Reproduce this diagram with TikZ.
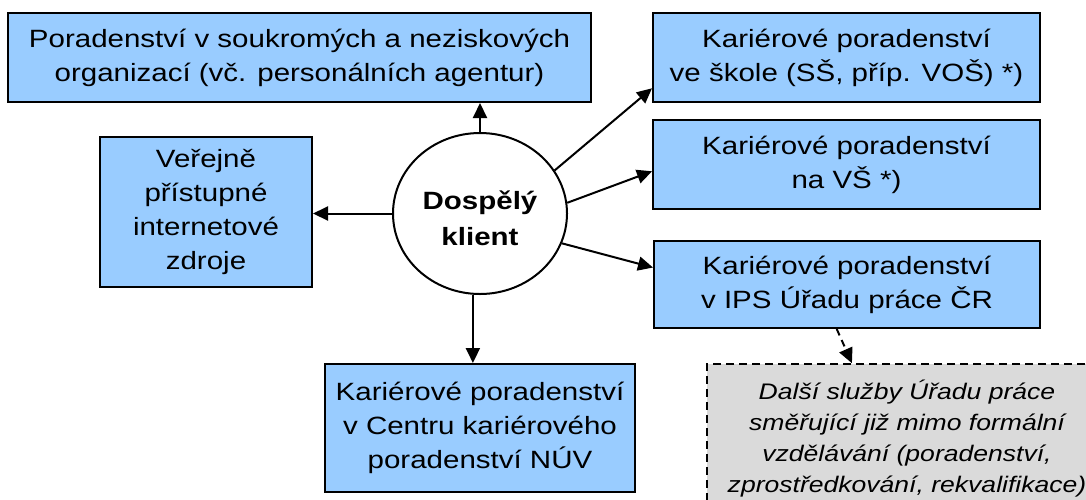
\documentclass[tikz,border=0pt]{standalone}
\usepackage{fontspec}
\setmainfont{Liberation Sans}[FakeStretch=1.18]
\usepackage{xcolor}
\usepackage{tikz}
\usetikzlibrary{arrows.meta}
\usetikzlibrary{shapes.geometric}
\definecolor{boxblue}{HTML}{99CCFF}
\definecolor{boxgray}{HTML}{DADADA}
\tikzset{
  bluebox/.style={draw=black, line width=2pt, fill=boxblue, align=center, inner sep=2pt, font=\fontsize{25}{34}\selectfont},
  graybox/.style={draw=black, line width=1.6pt, dash pattern=on 8pt off 5pt, fill=boxgray, align=center, inner sep=2pt, font=\fontsize{22.5}{31}\selectfont\itshape},
  link/.style={line width=2pt, ->, >={Triangle[length=15pt,width=14pt]}}
}

\begin{document}
\begin{tikzpicture}[x=1pt, y=-1pt]
\useasboundingbox (0,0) rectangle (1086,499);
\clip (0,0) rectangle (1086,499);
\node[bluebox, minimum width=583, minimum height=89] (priv) at (299.5,57.5) {Poradenství v soukromých a neziskových\\organizací (vč. personálních agentur)};
\node[bluebox, minimum width=212, minimum height=150] (web) at (206,212) {Veřejně\\přístupné\\internetové\\zdroje};
\node[draw=black, line width=2pt, fill=white, ellipse, inner sep=0pt, minimum width=174, minimum height=161, align=center, font=\fontsize{25}{36}\selectfont\bfseries] (client) at (480,213.5) {\rule{0pt}{29pt}Dospělý\\klient};
\node[bluebox, minimum width=387, minimum height=89] (school) at (846.5,57.5) {Kariérové poradenství\\ve škole (SŠ, příp. VOŠ) *)};
\node[bluebox, minimum width=387, minimum height=89] (uni) at (846.5,164.5) {Kariérové poradenství\\na VŠ *)};
\node[bluebox, minimum width=386, minimum height=87] (ips) at (847,284.5) {Kariérové poradenství\\v IPS Úřadu práce ČR};
\node[bluebox, minimum width=310, minimum height=128] (nuv) at (480,428) {Kariérové poradenství\\v Centru kariérového\\poradenství NÚV};
\node[graybox, minimum width=400, minimum height=150] (other) at (907,439) {Další služby Úřadu práce\\směřující již mimo formální\\vzdělávání (poradenství,\\zprostředkování, rekvalifikace)};
\draw[link] (client.north) -- (client.north |- priv.south);
\draw[link] (client.west) -- (client.west -| web.east);
\draw[link] (client.30) -- (school.189);
\draw[link] (client.7) -- (uni.182);
\draw[link] (client.340) -- (ips.175);
\draw[link] (client.265) -- (client.265 |- nuv.north);
\draw[link, dash pattern=on 7pt off 5pt] (ips.257) -- (other.126);
\end{tikzpicture}
\end{document}
